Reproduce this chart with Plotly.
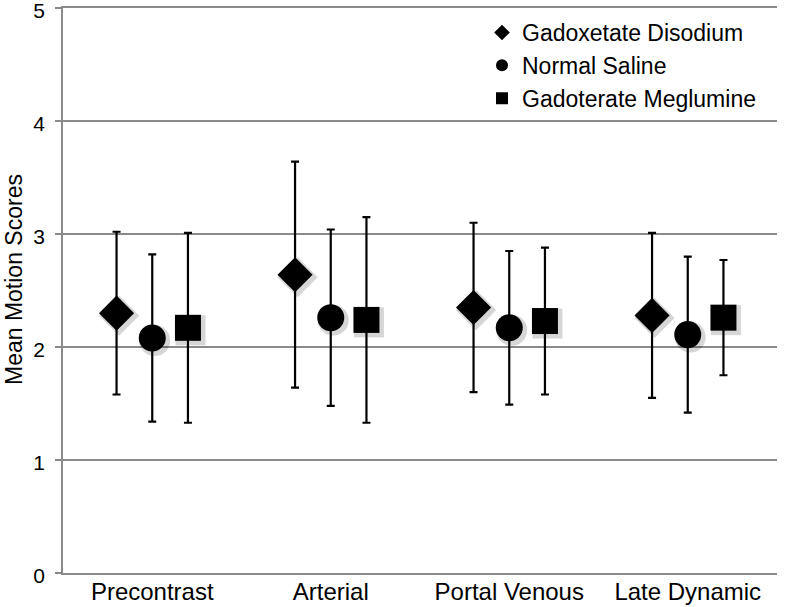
import plotly.graph_objects as go

categories = ["Precontrast", "Arterial", "Portal Venous", "Late Dynamic"]
series_names = ["Gadoxetate Disodium", "Normal Saline", "Gadoterate Meglumine"]
symbols = ["diamond", "circle", "square"]
sizes = [27, 27, 26]
offsets = [-0.2, 0.0, 0.2]

gadoxetate_mean = [2.30, 2.64, 2.35, 2.28]
gadoxetate_sd = [0.72, 1.00, 0.75, 0.73]
saline_mean = [2.08, 2.26, 2.17, 2.11]
saline_sd = [0.74, 0.78, 0.68, 0.69]
gadoterate_mean = [2.17, 2.24, 2.23, 2.26]
gadoterate_sd = [0.84, 0.91, 0.65, 0.51]

means = [gadoxetate_mean, saline_mean, gadoterate_mean]
sds = [gadoxetate_sd, saline_sd, gadoterate_sd]

W, H = 800, 607
ml, mr, mt, mb = 63, 23, 8, 34
pw, ph = W - ml - mr, H - mt - mb
xr = [-0.5, 3.5]
yr = [0, 5.0005]
dx = 2.5 * (xr[1] - xr[0]) / pw
dy = 2.5 * (yr[1] - yr[0]) / ph

fig = go.Figure()

# soft shadows on the base axes, whose range is shifted by a couple of pixels
for k in range(3):
    xs = [i + offsets[k] for i in range(len(categories))]
    fig.add_trace(go.Scatter(
        x=xs, y=means[k], mode="markers", xaxis="x", yaxis="y",
        marker=dict(symbol=symbols[k], size=sizes[k] + 4, color="rgba(0,0,0,0.16)",
                    line=dict(width=0)),
        showlegend=False, hoverinfo="skip"))

for k in range(3):
    xs = [i + offsets[k] for i in range(len(categories))]
    fig.add_trace(go.Scatter(
        x=xs, y=means[k], mode="markers", name=series_names[k],
        xaxis="x2", yaxis="y2",
        marker=dict(symbol=symbols[k], size=sizes[k], color="black",
                    line=dict(width=0)),
        error_y=dict(type="data", array=sds[k], visible=True,
                     color="black", thickness=2.2, width=4)))

fig.add_annotation(text="Mean Motion Scores", textangle=-90, showarrow=False,
                   xref="paper", yref="paper", x=(0 - ml) / pw, y=(H - mb - 280) / ph,
                   xanchor="left", yanchor="middle", borderpad=0,
                   font=dict(size=23, color="black"))

fig.update_layout(
    width=W, height=H,
    margin=dict(l=ml, r=mr, t=mt, b=mb, autoexpand=False),
    paper_bgcolor="white", plot_bgcolor="white",
    font=dict(family="Liberation Sans, Arial, sans-serif", color="#000000"),
    showlegend=True,
    legend=dict(x=(482 - ml) / pw, y=(H - mb - 11) / ph, xanchor="left", yanchor="top",
                bgcolor="rgba(0,0,0,0)", font=dict(size=23), itemsizing="constant",
                tracegroupgap=0),
    xaxis=dict(range=[xr[0] - dx, xr[1] - dx], showgrid=False, zeroline=False,
               showline=False, showticklabels=False, ticks=""),
    yaxis=dict(range=[yr[0] + dy, yr[1] + dy], showgrid=False, zeroline=False,
               showline=False, showticklabels=False, ticks=""),
    xaxis2=dict(range=xr, overlaying="x", anchor="y2", side="bottom",
                tickmode="array", tickvals=list(range(len(categories))),
                ticktext=categories, showgrid=False, zeroline=False,
                showline=True, mirror=True, linecolor="#8a8a8a", linewidth=1.6,
                ticks="", tickfont=dict(size=24), ticklabelstandoff=-4,
                ticklabeloverflow="allow"),
    yaxis2=dict(range=yr, overlaying="y", anchor="x2", side="left",
                tickmode="array", tickvals=[0, 1, 2, 3, 4, 5],
                showgrid=True, gridcolor="#8a8a8a", gridwidth=1.6, zeroline=False,
                showline=True, linecolor="#8a8a8a", linewidth=1.6,
                ticks="outside", ticklen=6, tickcolor="#8a8a8a", tickwidth=1.6,
                tickfont=dict(size=21), ticklabelstandoff=6, ticklabelshift=3,
                ticklabeloverflow="allow"),
)

fig.write_html("out.html", post_script="document.body.style.margin='0';",
               config={"displayModeBar": False})
